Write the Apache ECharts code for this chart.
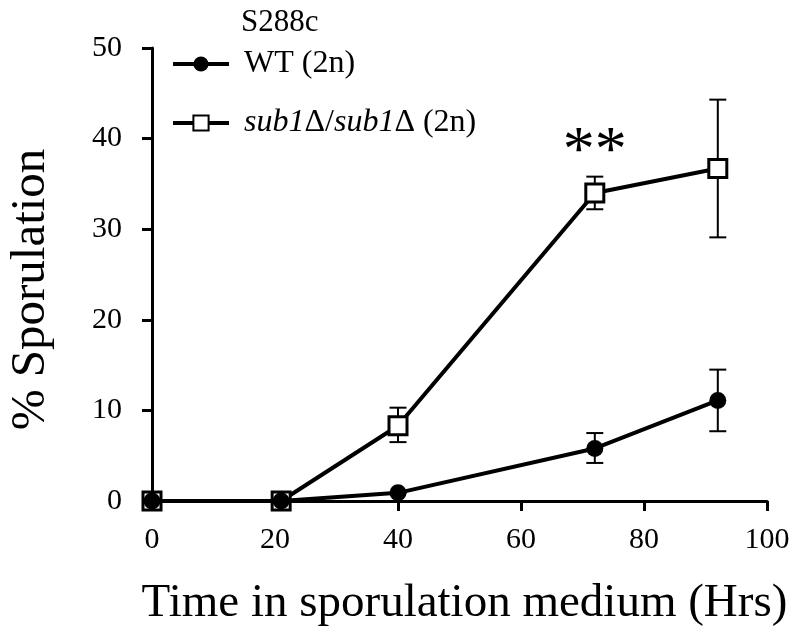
<!DOCTYPE html>
<html>
<head>
<meta charset="utf-8">
<script src="https://cdn.jsdelivr.net/npm/echarts@6/dist/echarts.min.js"></script>
<style>
  * { margin: 0; padding: 0; }
  #chart { width: 800px; height: 637px; background: #fff; }
</style>
</head>
<body>
<div id="chart"></div>
<script>
// time points (hours)
var hours = [0, 21, 40, 72, 92];
// WT (2n)
var wtMean = [0, 0, 0.9, 5.8, 11.1];
var wtLow = [0, 0, 0.9, 4.2, 7.7];
var wtHigh = [0, 0, 0.9, 7.5, 14.5];
// sub1Δ/sub1Δ (2n)
var subMean = [0, 0, 8.3, 34.0, 36.7];
var subLow = [0, 0, 6.5, 32.2, 29.1];
var subHigh = [0, 0, 10.3, 35.8, 44.3];
// significance mark
var starAt = [72, 38.4];

var font = "Liberation Serif";

function pairs(xs, ys) {
  return xs.map(function (x, i) { return [x, ys[i]]; });
}
function errRows(lo, hi) {
  return hours.map(function (h, i) { return [h, lo[i], hi[i]]; });
}

// vertical error bar with caps
function errorBar(params, api) {
  var top = api.coord([api.value(0), api.value(2)]);
  var bot = api.coord([api.value(0), api.value(1)]);
  var w = 8.5;
  var style = { stroke: "#000", lineWidth: 2 };
  return {
    type: "group",
    children: [
      { type: "line", shape: { x1: top[0], y1: top[1], x2: bot[0], y2: bot[1] }, style: style },
      { type: "line", shape: { x1: top[0] - w, y1: top[1], x2: top[0] + w, y2: top[1] }, style: style },
      { type: "line", shape: { x1: bot[0] - w, y1: bot[1], x2: bot[0] + w, y2: bot[1] }, style: style }
    ]
  };
}

var chart = echarts.init(document.getElementById("chart"));
chart.setOption({
  animation: false,
  title: {
    text: "S288c",
    left: 236,
    top: 2,
    textStyle: { fontFamily: font, fontSize: 31, fontWeight: "normal", color: "#000" }
  },
  legend: {
    orient: "vertical",
    left: 166,
    top: 43,
    itemWidth: 56,
    itemHeight: 19,
    itemGap: 27,
    data: ["WT", "sub1"],
    lineStyle: { width: 4, color: "#000" },
    formatter: function (name) {
      return name === "WT" ? "WT (2n)" : "{i|sub1}Δ/{i|sub1}Δ (2n)";
    },
    textStyle: {
      fontFamily: font,
      fontSize: 32,
      color: "#000",
      padding: [0, 0, 0, 10],
      rich: {
        i: { fontFamily: font, fontSize: 32, fontStyle: "italic", color: "#000" }
      }
    }
  },
  grid: { left: 152, right: 33, top: 48, bottom: 136, outerBoundsMode: "none" },
  xAxis: {
    type: "value",
    min: 0,
    max: 100,
    interval: 20,
    name: "Time in sporulation medium (Hrs)",
    nameLocation: "middle",
    nameGap: 79,
    nameTextStyle: { fontFamily: font, fontSize: 47, color: "#000", padding: [0, 0, 0, 10] },
    axisLine: { lineStyle: { color: "#000", width: 3 } },
    axisTick: { length: 10, lineStyle: { color: "#000", width: 3 } },
    axisLabel: { fontFamily: font, fontSize: 30, color: "#000", margin: 24 },
    splitLine: { show: false }
  },
  yAxis: {
    type: "value",
    min: 0,
    max: 50,
    interval: 10,
    name: "% Sporulation",
    nameLocation: "middle",
    nameRotate: 90,
    nameGap: 96,
    nameTextStyle: { fontFamily: font, fontSize: 49, color: "#000", padding: [0, 30, 0, 0] },
    axisLine: { lineStyle: { color: "#000", width: 3 } },
    axisTick: { length: 10, lineStyle: { color: "#000", width: 3 } },
    axisLabel: { fontFamily: font, fontSize: 30, color: "#000", margin: 30 },
    splitLine: { show: false }
  },
  series: [
    {
      type: "custom",
      renderItem: errorBar,
      data: errRows(wtLow, wtHigh),
      z: 1,
      clip: false,
      silent: true
    },
    {
      type: "custom",
      renderItem: errorBar,
      data: errRows(subLow, subHigh),
      z: 1,
      clip: false,
      silent: true
    },
    {
      name: "sub1",
      type: "line",
      data: pairs(hours, subMean),
      symbol: "rect",
      symbolSize: 18,
      showAllSymbol: true,
      clip: false,
      z: 4,
      lineStyle: { color: "#000", width: 4 },
      itemStyle: { color: "#fff", borderColor: "#000", borderWidth: 3 },
      markPoint: {
        symbol: "circle",
        symbolSize: 1,
        itemStyle: { color: "rgba(0,0,0,0)" },
        data: [{ coord: starAt, value: 1 }],
        label: {
          show: true,
          position: "inside",
          formatter: "**",
          fontFamily: font,
          fontSize: 64,
          letterSpacing: 6,
          color: "#000"
        }
      }
    },
    {
      name: "WT",
      type: "line",
      data: pairs(hours, wtMean),
      symbol: "circle",
      symbolSize: 17,
      showAllSymbol: true,
      clip: false,
      z: 5,
      lineStyle: { color: "#000", width: 4 },
      itemStyle: { color: "#000", borderColor: "#000", borderWidth: 0 }
    }
  ]
});
</script>
</body>
</html>
